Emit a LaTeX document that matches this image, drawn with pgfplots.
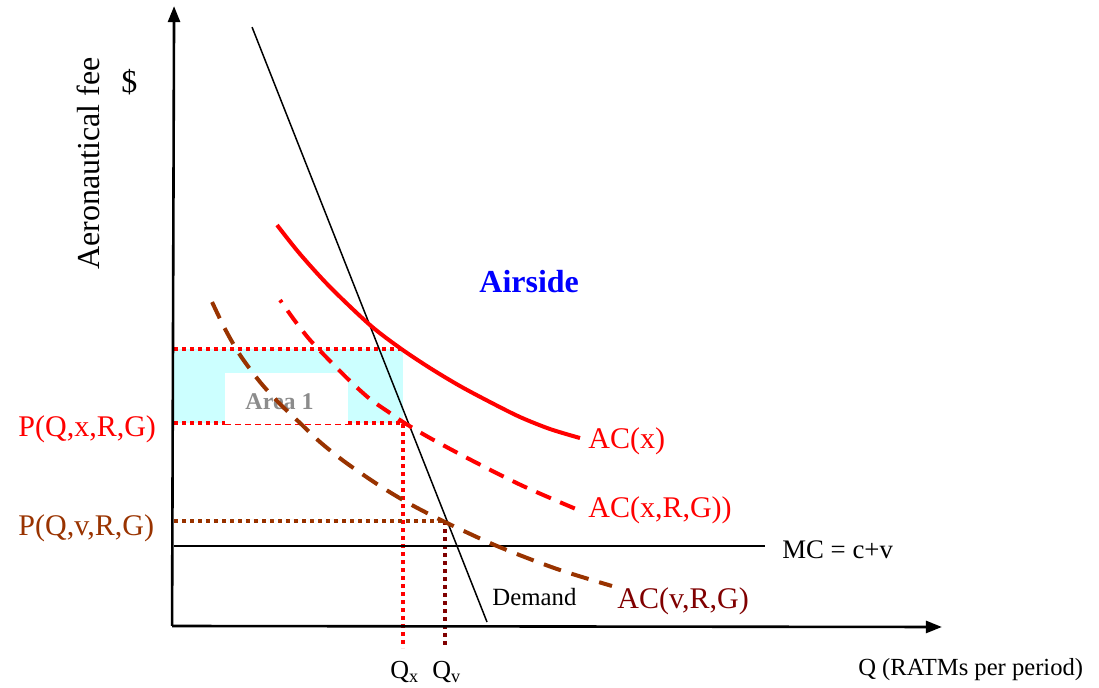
\documentclass[border=0pt]{standalone}
\usepackage{pgfplots}
\pgfplotsset{compat=1.18}
\usepackage{fontspec}
\setmainfont{Liberation Serif}
\usetikzlibrary{arrows.meta}
\definecolor{acred}{RGB}{255,0,0}
\definecolor{brownc}{RGB}{153,51,0}
\definecolor{maroonc}{RGB}{128,0,0}
\definecolor{cyanfill}{RGB}{204,255,255}
\definecolor{graytext}{RGB}{140,140,140}
\definecolor{airblue}{RGB}{0,0,255}
\newcommand{\fs}[1]{\fontsize{#1}{#1}\selectfont}
\begin{document}
\begin{tikzpicture}[every node/.style={inner sep=0pt}]
\begin{axis}[
  scale only axis, width=549.5pt, height=343.5pt,
  xmin=0, xmax=1099, ymin=0, ymax=687, y dir=reverse,
  hide axis, clip=false,
  dotred/.style={acred, line width=1.8pt, dash pattern=on 2pt off 2pt},
  dotbrown/.style={brownc, line width=1.8pt, dash pattern=on 2pt off 2pt},
  dotmaroon/.style={maroonc, line width=1.8pt, dash pattern=on 2pt off 2pt},
]
% invisible frame for bounding box
\addplot[draw=white, line width=0.1pt] coordinates {(0,0) (1099,0) (1099,687) (0,687) (0,0)};
% Area 1 shading
\addplot[draw=none, fill=cyanfill] coordinates {(172,349) (403,349) (403,423) (172,423)} -- cycle;
\addplot[draw=none, fill=white] coordinates {(225,373) (348,373) (348,424) (225,424)} -- cycle;
\node[anchor=base west, text=graytext, font=\fs{12}\bfseries] at (axis cs:245,409) {Area 1};
% dotted price lines
\addplot[dotred] coordinates {(174,349) (403,349)};
\addplot[dotred] coordinates {(174,423) (225,423)};
\addplot[acred, line width=0.4pt, dash pattern=on 3pt off 2pt] coordinates {(225,424) (348,424)};
\addplot[dotred] coordinates {(348,423) (403,423) (403,648)};
\addplot[dotbrown] coordinates {(174,521) (445,521)};
\addplot[dotmaroon] coordinates {(445,521) (445,648)};
% MC line
\addplot[black, line width=0.6pt] coordinates {(174,546) (765,546)};
% Demand
\addplot[black, line width=0.75pt] coordinates {(252,27) (487,622)};
% AC(x)
\addplot[acred, line width=2pt, smooth] coordinates {(277,225) (300,254) (330,287) (370,325) (400,348) (430,368) (460,386) (490,402) (520,417) (550,429) (580,438)};
% AC(x,R,G)
\addplot[acred, line width=2pt, smooth, dash pattern=on 8pt off 5pt, dash phase=6.5pt] coordinates {(280,300) (295,321) (310,340) (330,361) (350,381) (370,399) (390,413) (403,422) (430,438) (473,461) (523,486) (583,512)};
% AC(v,R,G)
\addplot[brownc, line width=2pt, smooth, dash pattern=on 9pt off 5.5pt] coordinates {(212,302) (225,329) (240,355) (260,382) (280,404) (300,423) (320,442) (345,462) (380,486) (410,504) (445,522) (497,546) (557,569) (612,586)};
% axes
\addplot[black, line width=1.3pt, -{Triangle[length=8pt, width=6pt]}] coordinates {(172,626) (942,627)};
\addplot[black, line width=1.3pt, -{Triangle[length=8pt, width=6pt]}] coordinates {(172,626) (174,6)};
% labels
\node[anchor=base west, rotate=90, font=\fs{16}] at (axis cs:99,270) {Aeronautical fee};
\node[anchor=base west, font=\fs{16}] at (axis cs:121,92) {\$};
\node[anchor=base west, text=airblue, font=\fs{16}\bfseries] at (axis cs:479,292) {Airside};
\node[anchor=base west, text=acred, font=\fs{15}] at (axis cs:18,436) {P(Q,x,R,G)};
\node[anchor=base west, text=brownc, font=\fs{15}] at (axis cs:18,535) {P(Q,v,R,G)};
\node[anchor=base west, text=acred, font=\fs{15}] at (axis cs:588,448) {AC(x)};
\node[anchor=base west, text=acred, font=\fs{15}] at (axis cs:588,517) {AC(x,R,G))};
\node[anchor=base west, font=\fs{13.4}] at (axis cs:782,558) {MC = c+v};
\node[anchor=base west, text=maroonc, font=\fs{15}] at (axis cs:617,608) {AC(v,R,G)};
\node[anchor=base west, font=\fs{12.4}] at (axis cs:492,605) {Demand};
\node[anchor=base west, font=\fs{12.3}] at (axis cs:858,676) {Q (RATMs per period)};
\node[anchor=base west, font=\fs{13}] at (axis cs:390,679) {Q\textsubscript{x}};
\node[anchor=base west, font=\fs{13}] at (axis cs:432,679) {Q\textsubscript{v}};
\end{axis}
\end{tikzpicture}
\end{document}
